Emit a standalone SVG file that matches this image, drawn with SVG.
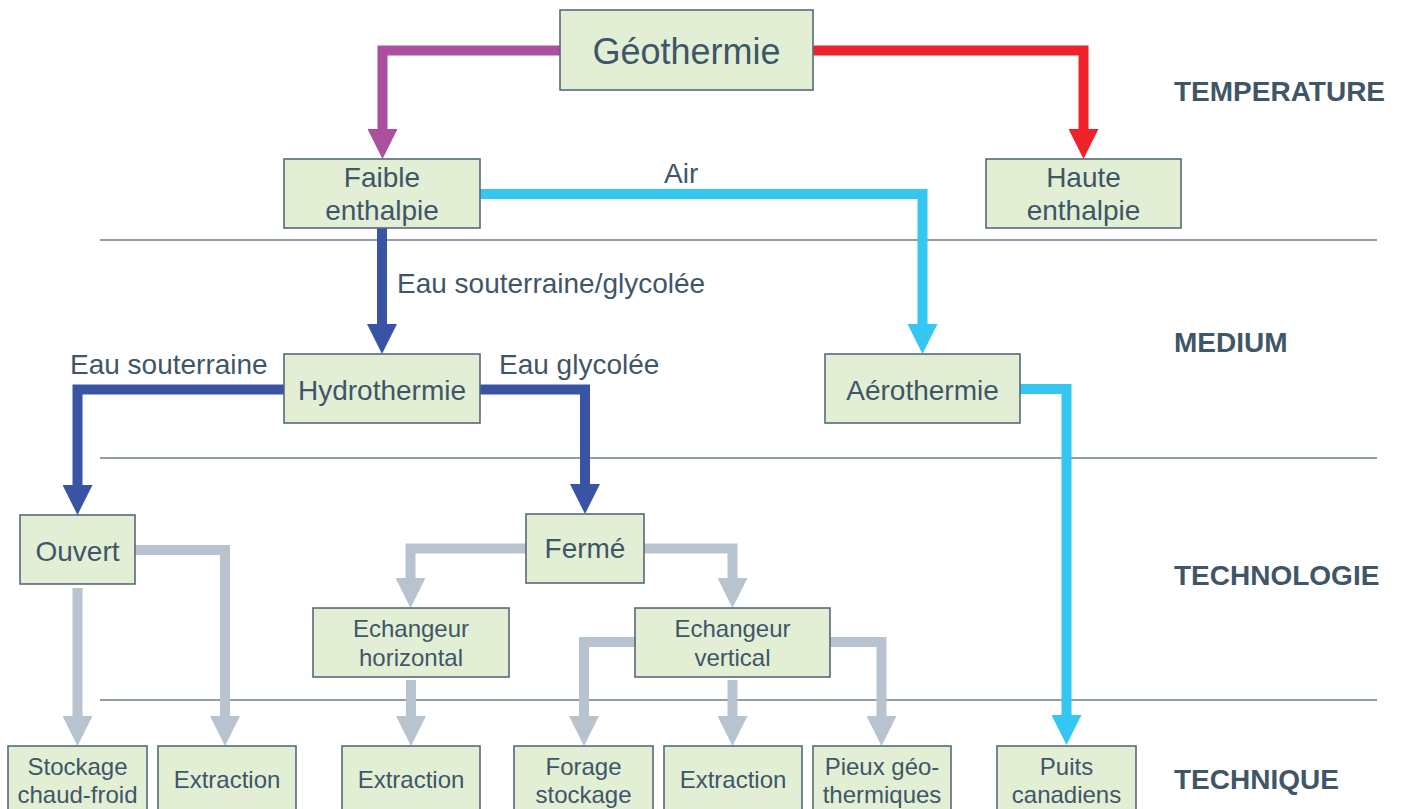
<svg xmlns="http://www.w3.org/2000/svg" width="1405" height="809" viewBox="0 0 1405 809">
<defs>
<style>
.box{fill:#e2efd5;stroke:#566a7b;stroke-width:1.6}
.t{font-family:"Liberation Sans",Arial,sans-serif;fill:#3f5668;text-anchor:middle}
.t36{font-size:36px}
.t28{font-size:28px}
.t24{font-size:24px}
.lbl{font-family:"Liberation Sans",Arial,sans-serif;fill:#3f5668;font-size:28px}
.cat{font-family:"Liberation Sans",Arial,sans-serif;fill:#3f5668;font-size:28px;font-weight:bold}
.sep{stroke:#6b7e8b;stroke-width:1.5;fill:none}
.c{fill:none;stroke-width:10;stroke-linejoin:miter;stroke-linecap:butt}
.purple{stroke:#ab4f9e}
.red{stroke:#ee2228}
.cyan{stroke:#35c6f2}
.blue{stroke:#3a54a5}
.gray{stroke:#b7c3cf}
</style>
<marker id="ah-purple" viewBox="0 0 30 30" refX="0" refY="15" markerWidth="30" markerHeight="30" markerUnits="userSpaceOnUse" orient="auto"><path d="M0,0 L30,15 L0,30 z" fill="#ab4f9e"/></marker>
<marker id="ah-red" viewBox="0 0 30 30" refX="0" refY="15" markerWidth="30" markerHeight="30" markerUnits="userSpaceOnUse" orient="auto"><path d="M0,0 L30,15 L0,30 z" fill="#ee2228"/></marker>
<marker id="ah-cyan" viewBox="0 0 30 30" refX="0" refY="15" markerWidth="30" markerHeight="30" markerUnits="userSpaceOnUse" orient="auto"><path d="M0,0 L30,15 L0,30 z" fill="#35c6f2"/></marker>
<marker id="ah-blue" viewBox="0 0 30 30" refX="0" refY="15" markerWidth="30" markerHeight="30" markerUnits="userSpaceOnUse" orient="auto"><path d="M0,0 L30,15 L0,30 z" fill="#3a54a5"/></marker>
<marker id="ah-gray" viewBox="0 0 30 30" refX="0" refY="15" markerWidth="30" markerHeight="30" markerUnits="userSpaceOnUse" orient="auto"><path d="M0,0 L30,15 L0,30 z" fill="#b7c3cf"/></marker>
</defs>
<rect width="1405" height="809" fill="#ffffff"/>

<g id="separators">
<line class="sep" x1="100" y1="240" x2="1377" y2="240"/>
<line class="sep" x1="100" y1="458" x2="1377" y2="458"/>
<line class="sep" x1="100" y1="700" x2="1377" y2="700"/>
</g>

<g id="categories">
<text class="cat" x="1174" y="101">TEMPERATURE</text>
<text class="cat" x="1174" y="352">MEDIUM</text>
<text class="cat" x="1174" y="585">TECHNOLOGIE</text>
<text class="cat" x="1174" y="789">TECHNIQUE</text>
</g>

<g id="connectors">
<path class="c purple" d="M560,50.5 H382.5 V129" marker-end="url(#ah-purple)"/>
<path class="c red" d="M813,50.5 H1083.5 V129" marker-end="url(#ah-red)"/>
<path class="c cyan" d="M480,194 H922.5 V324" marker-end="url(#ah-cyan)"/>
<path class="c blue" d="M382,228 V324" marker-end="url(#ah-blue)"/>
<path class="c cyan" d="M1020,389 H1066.5 V715" marker-end="url(#ah-cyan)"/>
<path class="c blue" d="M284,389.5 H77.5 V485" marker-end="url(#ah-blue)"/>
<path class="c blue" d="M480,389.5 H585 V484" marker-end="url(#ah-blue)"/>
<path class="c gray" d="M77.5,588 V716" marker-end="url(#ah-gray)"/>
<path class="c gray" d="M135,550 H225 V716" marker-end="url(#ah-gray)"/>
<path class="c gray" d="M526,548.5 H410.5 V578" marker-end="url(#ah-gray)"/>
<path class="c gray" d="M644,548.5 H732.5 V578" marker-end="url(#ah-gray)"/>
<path class="c gray" d="M411,680 V716" marker-end="url(#ah-gray)"/>
<path class="c gray" d="M635,642 H584 V716" marker-end="url(#ah-gray)"/>
<path class="c gray" d="M732.5,680 V716" marker-end="url(#ah-gray)"/>
<path class="c gray" d="M830,642 H881.5 V716" marker-end="url(#ah-gray)"/>
<text class="lbl" x="664" y="183">Air</text>
<text class="lbl" x="397" y="293">Eau souterraine/glycolée</text>
<text class="lbl" x="70" y="374">Eau souterraine</text>
<text class="lbl" x="499" y="374">Eau glycolée</text>
</g>

<g id="geothermie"><rect class="box" x="560" y="10" width="253" height="80"/><text class="t t36" x="686.5" y="64">Géothermie</text></g>
<g id="faible"><rect class="box" x="284" y="159" width="196" height="69"/><text class="t t28" x="382" y="187">Faible</text><text class="t t28" x="382" y="220">enthalpie</text></g>
<g id="haute"><rect class="box" x="986" y="159" width="195" height="69"/><text class="t t28" x="1083.5" y="187">Haute</text><text class="t t28" x="1083.5" y="220">enthalpie</text></g>
<g id="hydrothermie"><rect class="box" x="284" y="354" width="196" height="69"/><text class="t t28" x="382" y="400">Hydrothermie</text></g>
<g id="aerothermie"><rect class="box" x="825" y="354" width="195" height="69"/><text class="t t28" x="922.5" y="400">Aérothermie</text></g>
<g id="ouvert"><rect class="box" x="20" y="515" width="115" height="69"/><text class="t t28" x="77.5" y="561">Ouvert</text></g>
<g id="ferme"><rect class="box" x="526" y="514" width="118" height="69"/><text class="t t28" x="585" y="558">Fermé</text></g>
<g id="ech-horizontal"><rect class="box" x="313" y="608" width="196" height="69"/><text class="t t24" x="411" y="637">Echangeur</text><text class="t t24" x="411" y="666">horizontal</text></g>
<g id="ech-vertical"><rect class="box" x="635" y="608" width="195" height="69"/><text class="t t24" x="732.5" y="637">Echangeur</text><text class="t t24" x="732.5" y="666">vertical</text></g>
<g id="stockage"><rect class="box" x="8" y="746" width="139" height="70"/><text class="t t24" x="77.5" y="775">Stockage</text><text class="t t24" x="77.5" y="803">chaud-froid</text></g>
<g id="extraction1"><rect class="box" x="158" y="746" width="138" height="70"/><text class="t t24" x="227" y="788">Extraction</text></g>
<g id="extraction2"><rect class="box" x="342" y="746" width="138" height="70"/><text class="t t24" x="411" y="788">Extraction</text></g>
<g id="forage"><rect class="box" x="514" y="746" width="139" height="70"/><text class="t t24" x="583.5" y="775">Forage</text><text class="t t24" x="583.5" y="803">stockage</text></g>
<g id="extraction3"><rect class="box" x="664" y="746" width="138" height="70"/><text class="t t24" x="733" y="788">Extraction</text></g>
<g id="pieux"><rect class="box" x="813" y="746" width="138" height="70"/><text class="t t24" x="882" y="775">Pieux géo-</text><text class="t t24" x="882" y="803">thermiques</text></g>
<g id="puits"><rect class="box" x="997" y="746" width="139" height="70"/><text class="t t24" x="1066.5" y="775">Puits</text><text class="t t24" x="1066.5" y="803">canadiens</text></g>
</svg>
